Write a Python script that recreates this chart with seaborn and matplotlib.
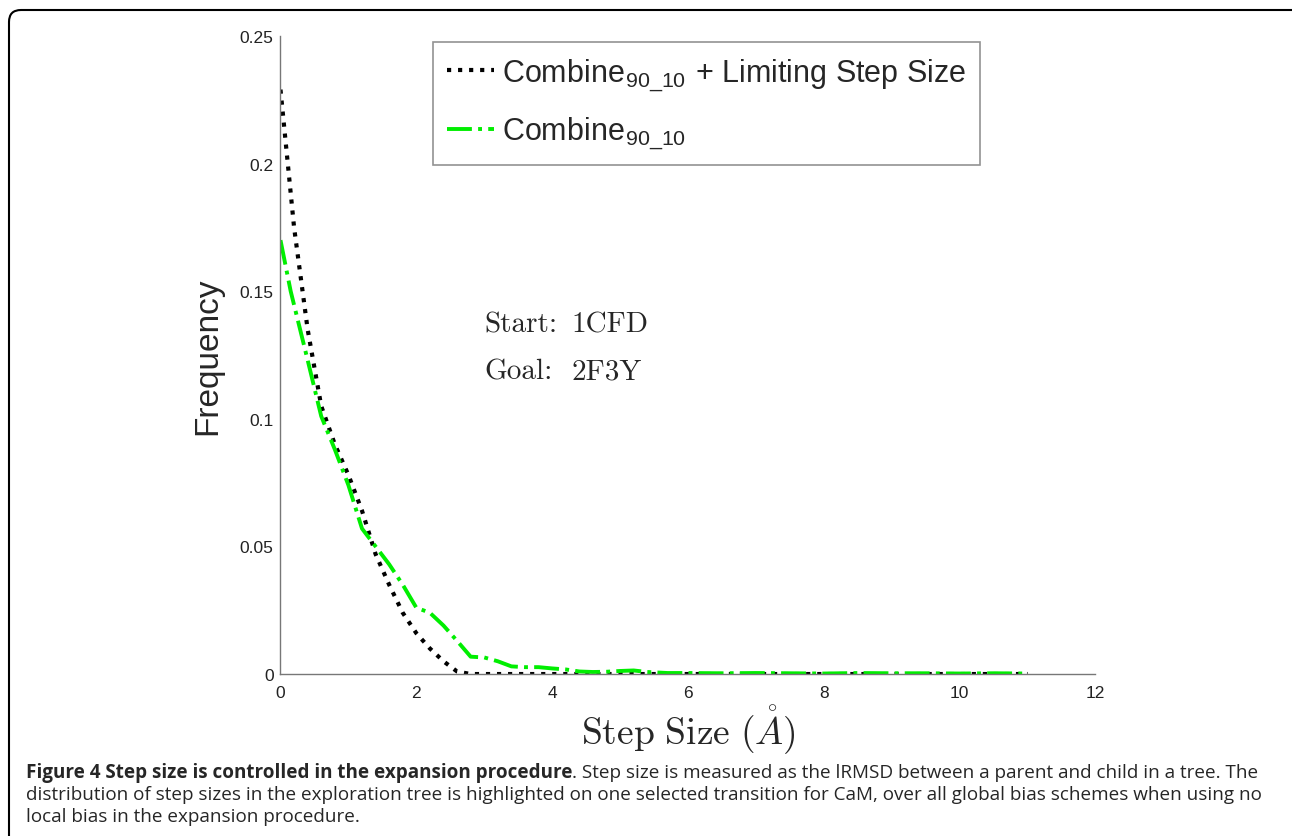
import pandas as pd
import seaborn as sns
import matplotlib.pyplot as plt
from matplotlib.patches import FancyBboxPatch
from matplotlib.transforms import IdentityTransform

# Step size histogram (Angstrom)
step_limited = [0.0, 0.2, 0.4, 0.6, 0.8, 1.0, 1.2, 1.4, 1.6, 1.8, 2.0, 2.2, 2.4,
                2.6, 2.8, 3.0, 4.0, 5.0, 6.0, 7.0, 8.0, 9.0, 10.0, 11.0]
freq_limited = [0.229, 0.175, 0.135, 0.105, 0.090, 0.078, 0.064, 0.047, 0.035,
                0.024, 0.016, 0.010, 0.005, 0.001, 0.0, 0.0, 0.0, 0.0, 0.0, 0.0,
                0.0, 0.0, 0.0, 0.0]

step_combine = [0.0, 0.15, 0.4, 0.6, 0.8, 1.0, 1.2, 1.4, 1.6, 1.8, 2.0, 2.2, 2.4,
                2.6, 2.8, 3.0, 3.2, 3.4, 3.6, 3.8, 4.0, 4.2, 4.4, 4.6, 4.8, 5.0,
                5.2, 5.4, 5.7, 6.0, 6.5, 7.0, 7.5, 8.0, 8.5, 9.0, 9.5, 10.0,
                10.5, 11.0]
freq_combine = [0.170, 0.150, 0.123, 0.101, 0.088, 0.074, 0.057, 0.050, 0.043,
                0.035, 0.026, 0.024, 0.019, 0.013, 0.0068, 0.0065, 0.005, 0.003,
                0.0027, 0.0027, 0.0022, 0.0018, 0.0010, 0.0008, 0.0009, 0.0012,
                0.0014, 0.0008, 0.0004, 0.0004, 0.0003, 0.0004, 0.0003, 0.0002,
                0.0004, 0.0003, 0.0003, 0.0002, 0.0003, 0.0002]

x_ticks = [0, 2, 4, 6, 8, 10, 12]
y_ticks = [0, 0.05, 0.1, 0.15, 0.2, 0.25]
y_tick_labels = ["0", "0.05", "0.1", "0.15", "0.2", "0.25"]

label_limited = r"Combine$_{\mathregular{90\_10}}$ + Limiting Step Size"
label_combine = r"Combine$_{\mathregular{90\_10}}$"

caption_bold = "Figure 4 Step size is controlled in the expansion procedure"
caption_rest = ". Step size is measured as the lRMSD between a parent and child in a tree. The"
caption_line2 = ("distribution of step sizes in the exploration tree is highlighted on one selected "
                 "transition for CaM, over all global bias schemes when using no")
caption_line3 = "local bias in the expansion procedure."

sns.set_style("white")
plt.rcParams["font.family"] = ["Liberation Sans", "DejaVu Sans"]
plt.rcParams["mathtext.fontset"] = "cm"

fig = plt.figure(figsize=(12.92, 8.37), dpi=100)
ax = fig.add_axes([0.2171, 0.1935, 0.6308, 0.7623])

limited = pd.DataFrame({"step": step_limited, "freq": freq_limited})
combine = pd.DataFrame({"step": step_combine, "freq": freq_combine})

sns.lineplot(data=limited, x="step", y="freq", ax=ax, color="black",
             linestyle=":", linewidth=3, label=label_limited)
sns.lineplot(data=combine, x="step", y="freq", ax=ax, color="#00ee00",
             linestyle="-.", linewidth=2.8, label=label_combine)

ax.set_xlim(0, 12)
ax.set_ylim(0, 0.25)
ax.set_xticks(x_ticks)
ax.set_xticklabels([str(t) for t in x_ticks])
ax.set_yticks(y_ticks)
ax.set_yticklabels(y_tick_labels)
ax.tick_params(direction="in", length=5, width=1, color="#777777",
               labelsize=12.5, labelcolor="#222222", pad=8)
ax.tick_params(axis="y", pad=5)
for side in ["top", "right"]:
    ax.spines[side].set_visible(False)
for side in ["left", "bottom"]:
    ax.spines[side].set_color("#777777")
    ax.spines[side].set_linewidth(1)

# Label the chart
ax.set_ylabel("Frequency", fontsize=24, labelpad=12)
ax.set_xlabel(r"$\mathrm{Step\ Size\ }(\mathring{A})$", fontsize=27, labelpad=2)

ax.text(3.0, 0.137, "Start:", family="cmr10", fontsize=21, va="center")
ax.text(4.28, 0.137, "1CFD", family="cmr10", fontsize=21, va="center")
ax.text(3.0, 0.1185, "Goal:", family="cmr10", fontsize=21, va="center")
ax.text(4.28, 0.1185, "2F3Y", family="cmr10", fontsize=21, va="center")

leg = ax.legend(loc="upper left", bbox_to_anchor=(0.187, 0.99), borderaxespad=0,
                fontsize=22, handlelength=1.55, handletextpad=0.25,
                borderpad=0.45, labelspacing=0.72, fancybox=False)
leg.get_frame().set_edgecolor("#777777")
leg.get_frame().set_linewidth(1.2)

# Caption under the chart
cap_size = 13.6
cap_x = 26 / 1292
bold = fig.text(cap_x, 1 - 773 / 837, caption_bold, family="Open Sans",
                fontweight="bold", fontsize=cap_size, va="center")
fig.canvas.draw()
ext = bold.get_window_extent(renderer=fig.canvas.get_renderer())
fig.text(ext.x1 / 1292, 1 - 773 / 837, caption_rest, family="Open Sans",
         fontsize=cap_size, va="center")
fig.text(cap_x, 1 - 795 / 837, caption_line2, family="Open Sans",
         fontsize=cap_size, va="center")
fig.text(cap_x, 1 - 817 / 837, caption_line3, family="Open Sans",
         fontsize=cap_size, va="center")

# Rounded frame around the figure
frame = FancyBboxPatch((9, -60), 1350, 826 + 60,
                       boxstyle="round,pad=0,rounding_size=12",
                       transform=IdentityTransform(), facecolor="none",
                       edgecolor="black", linewidth=1.5)
fig.patches.append(frame)

plt.savefig("out.png", dpi=100)
